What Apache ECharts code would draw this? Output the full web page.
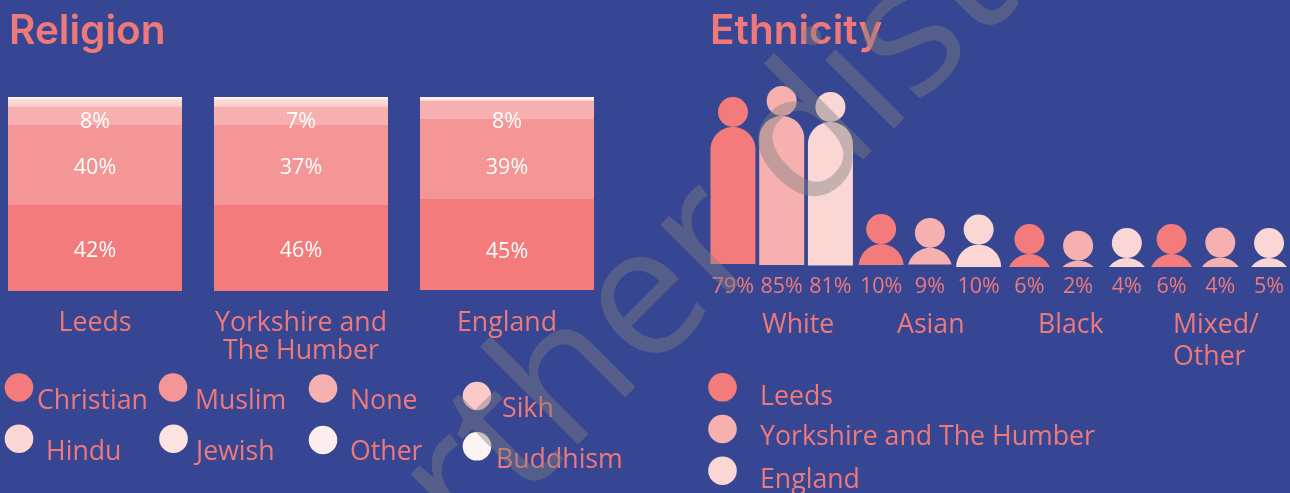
<!DOCTYPE html>
<html>
<head>
<meta charset="utf-8">
<style>html,body{margin:0;padding:0;background:#364693}#c{width:1290px;height:493px}</style>
<script src="https://cdn.jsdelivr.net/npm/echarts@6/dist/echarts.min.js"></script>
</head>
<body>
<div id="c"></div>
<script>
// ---- data -----
const places = ['Leeds', 'Yorkshire and\nThe Humber', 'England'];
// printed percentages
const christianPct = [42, 46, 45];
const muslimPct = [40, 37, 39];
const nonePct = [8, 7, 8];
// drawn share of each stacked segment
const offsetShare = [0, 0, 0.5];
const christianShare = [43, 43, 45.5];
const muslimShare = [40, 40, 40];
const noneShare = [9, 9, 9];
const sikhShare = [1, 1, 0];
const hinduShare = [2.5, 2.5, 0.5];
const jewishShare = [0.5, 0.5, 0.5];
const otherShare = [0.5, 0.5, 0.5];
const buddhismShare = [0.5, 0.5, 0.5];

const ethnicGroups = ['White', 'Asian', 'Black', 'Mixed/\nOther'];
const ethnicPlaces = ['Leeds', 'Yorkshire and The Humber', 'England'];
const ethnicPct = [79, 85, 81, 10, 9, 10, 6, 2, 4, 6, 4, 5];
// drawn top and foot of each figure
const figureTop = [80, 86.3, 82.9, 13.1, 10.9, 12.8, 7.4, 3.6, 5.1, 7.4, 5.4, 5.1];
const figureFoot = [1.7, 1.1, 0.9, 1.1, 1.4, 0, 0, 0, 0, 0, 0, 0];

const religionNames = ['Christian', 'Muslim', 'None', 'Sikh', 'Hindu', 'Jewish', 'Other', 'Buddhism'];

// ---- styles and layout -----
const BG = '#364693';
const TXT = '#ef7979';
const FONT = '"Open Sans"';
const TEXT_SIZE = '26.7px ';
const religionColors = ['#f37b7b', '#f39695', '#f6b0af', '#fbc9c8', '#fad6d5', '#fce3e2', '#fdeded', '#fdf4f3'];
const placeColors = ['#f37b7b', '#f6b0af', '#fad6d5'];
const nudgeChristian = [3, 3, 7], nudgeMuslim = [3, 3, 9], nudgeNone = [6, 6, 12];
const groupNudge = [0, 2, 4, 0];
const religionLegend = [
  [19, 387.5, 37, 401], [173, 387.5, 195, 401], [323, 388.5, 350, 401], [477, 396, 502, 409],
  [19, 438.7, 46, 452], [173.5, 438.7, 196, 452], [323, 440, 350, 452], [477, 446.3, 496, 460]
];
const ethnicLegend = [[722.5, 387.3, 760, 397], [722.5, 429, 760, 437.5], [722.5, 470.7, 760, 480]];
const groupLabelPos = [[762, 325], [897, 325], [1038, 325], [1173, 341]];

function labelled(pcts, nudges) {
  return function (v, i) {
    return { value: v, label: { show: true, position: 'inside', formatter: pcts[i] + '%', offset: [0, nudges[i]],
      color: '#ffffff', fontFamily: FONT, fontSize: 21.5 } };
  };
}
const stacks = [
  [null, offsetShare, 'transparent'],
  [religionNames[0], christianShare.map(labelled(christianPct, nudgeChristian)), religionColors[0]],
  [religionNames[1], muslimShare.map(labelled(muslimPct, nudgeMuslim)), religionColors[1]],
  [religionNames[2], noneShare.map(labelled(nonePct, nudgeNone)), religionColors[2]],
  [religionNames[3], sikhShare, religionColors[3]],
  [religionNames[4], hinduShare, religionColors[4]],
  [religionNames[5], jewishShare, religionColors[5]],
  [religionNames[6], otherShare, religionColors[6]],
  [religionNames[7], buddhismShare, religionColors[7]]
].map(function (s) {
  return { type: 'bar', name: s[0] || 'offset', stack: 'r', xAxisIndex: 0, yAxisIndex: 0, barWidth: 174, data: s[1],
    itemStyle: { color: s[2] }, silent: true, animation: false };
});

function renderFigure(params, api) {
  const i = api.value(0);
  const group = Math.min(3, Math.floor(i / 3));
  const nx = groupNudge[group];
  const top = api.coord([i, api.value(1)]);
  const foot = api.coord([i, api.value(2)]);
  const cx = top[0] + nx, yt = top[1], yb = foot[1];
  const r = 22.5, h = yb - yt;
  const color = placeColors[i % 3];
  const pts = [];
  const N = 40;
  if (h >= r) {
    pts.push([cx - r, yb]);
    for (let k = 0; k <= N; k++) {
      const a = Math.PI - Math.PI * k / N;
      pts.push([cx + r * Math.cos(a), yt + r - r * Math.sin(a)]);
    }
    pts.push([cx + r, yb]);
  } else {
    const a0 = Math.asin((r - h) / r);
    for (let k = 0; k <= N; k++) {
      const a = Math.PI - a0 - (Math.PI - 2 * a0) * k / N;
      pts.push([cx + r * Math.cos(a), yt + r - r * Math.sin(a)]);
    }
  }
  return {
    type: 'group',
    children: [
      { type: 'polygon', shape: { points: pts }, style: { fill: color } },
      { type: 'circle', shape: { cx: cx, cy: yt - 15, r: 15 }, style: { fill: color } },
      { type: 'text', x: cx, y: 287, style: { text: api.value(3) + '%', fill: TXT, font: '21.5px ' + FONT, align: 'center', verticalAlign: 'middle' } }
    ]
  };
}

const elements = [];
religionNames.forEach(function (n, i) {
  const p = religionLegend[i];
  elements.push({ type: 'circle', shape: { cx: p[0], cy: p[1], r: 14.3 }, style: { fill: religionColors[i] } });
  elements.push({ type: 'text', x: p[2], y: p[3], style: { text: n, fill: TXT, font: TEXT_SIZE + FONT, verticalAlign: 'middle' } });
});
ethnicPlaces.forEach(function (n, i) {
  const p = ethnicLegend[i];
  elements.push({ type: 'circle', shape: { cx: p[0], cy: p[1], r: 14.3 }, style: { fill: placeColors[i] } });
  elements.push({ type: 'text', x: p[2], y: p[3], style: { text: n, fill: TXT, font: TEXT_SIZE + FONT, verticalAlign: 'middle' } });
});
ethnicGroups.forEach(function (n, i) {
  const p = groupLabelPos[i];
  elements.push({ type: 'text', x: p[0], y: p[1], style: { text: n, fill: TXT, font: TEXT_SIZE + FONT, lineHeight: 32, verticalAlign: 'middle' } });
});
elements.push({ type: 'text', x: 374, y: 704, rotation: Math.PI / 4, z: 100, silent: true,
  style: { text: 'further distribution', fill: 'rgba(128,128,128,0.43)', font: '182px ' + FONT, verticalAlign: 'bottom' } });

const chart = echarts.init(document.getElementById('c'));
chart.setOption({
  animation: false,
  backgroundColor: BG,
  title: [
    { text: 'Religion', left: 4, top: 6, textStyle: { color: TXT, fontFamily: 'Inter', fontWeight: 600, fontSize: 40.5 } },
    { text: 'Ethnicity', left: 705, top: 6, textStyle: { color: TXT, fontFamily: 'Inter', fontWeight: 600, fontSize: 40.5 } }
  ],
  grid: [
    { left: -8, width: 618, top: 97, height: 194, outerBoundsMode: 'none' },
    { left: 708.6, width: 584.8, top: 92, height: 175, outerBoundsMode: 'none' }
  ],
  xAxis: [
    { type: 'category', gridIndex: 0, data: places, axisLine: { show: false }, axisTick: { show: false },
      axisLabel: { color: TXT, fontFamily: FONT, fontSize: 26.7, lineHeight: 28, margin: 18, interval: 0 } },
    { type: 'category', gridIndex: 1, data: ethnicPct.map(function (_, i) { return i; }), show: false }
  ],
  yAxis: [
    { type: 'value', gridIndex: 0, min: 0, max: 97, show: false },
    { type: 'value', gridIndex: 1, min: 0, max: 100, show: false }
  ],
  series: stacks.concat([{
    type: 'custom', xAxisIndex: 1, yAxisIndex: 1, clip: false, silent: true,
    renderItem: renderFigure,
    encode: { x: 0, y: 1 },
    data: ethnicPct.map(function (v, i) { return [i, figureTop[i], figureFoot[i], v]; })
  }]),
  graphic: { elements: elements }
});
</script>
</body>
</html>
